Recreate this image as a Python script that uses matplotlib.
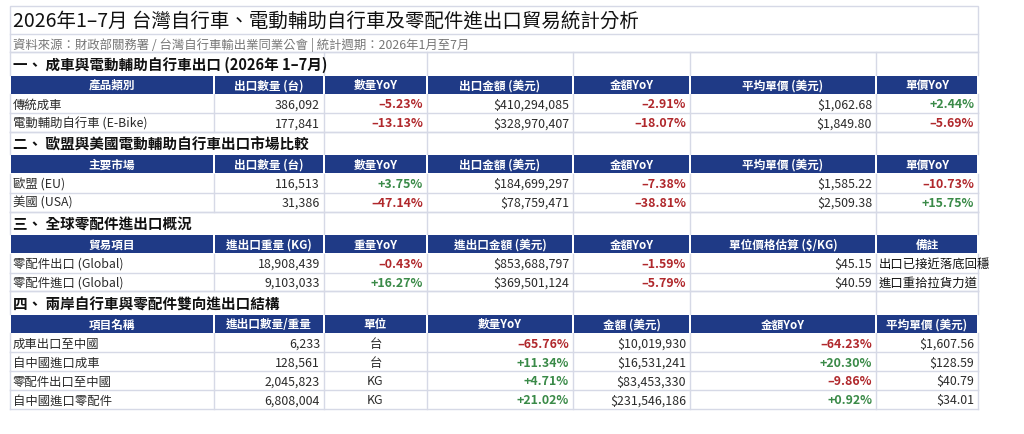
import matplotlib.pyplot as plt
from matplotlib.patches import Rectangle

plt.rcParams['font.family'] = ['Noto Sans CJK TC', 'DejaVu Sans']

TITLE = "2026年1–7月 台灣自行車、電動輔助自行車及零配件進出口貿易統計分析"
SOURCE = "資料來源：財政部關務署 / 台灣自行車輸出業同業公會 | 統計週期：2026年1月至7月"

# section 1
sec1_title = "一、 成車與電動輔助自行車出口 (2026年 1–7月)"
sec1_header = ["產品類別", "出口數量 (台)", "數量YoY", "出口金額 (美元)", "金額YoY", "平均單價 (美元)", "單價YoY"]
sec1_items = ["傳統成車", "電動輔助自行車 (E-Bike)"]
sec1_qty = [386092, 177841]
sec1_qty_yoy = [-5.23, -13.13]
sec1_value = [410294085, 328970407]
sec1_value_yoy = [-2.91, -18.07]
sec1_price = [1062.68, 1849.80]
sec1_price_yoy = [2.44, -5.69]

# section 2
sec2_title = "二、 歐盟與美國電動輔助自行車出口市場比較"
sec2_header = ["主要市場", "出口數量 (台)", "數量YoY", "出口金額 (美元)", "金額YoY", "平均單價 (美元)", "單價YoY"]
sec2_items = ["歐盟 (EU)", "美國 (USA)"]
sec2_qty = [116513, 31386]
sec2_qty_yoy = [3.75, -47.14]
sec2_value = [184699297, 78759471]
sec2_value_yoy = [-7.38, -38.81]
sec2_price = [1585.22, 2509.38]
sec2_price_yoy = [-10.73, 15.75]

# section 3
sec3_title = "三、 全球零配件進出口概況"
sec3_header = ["貿易項目", "進出口重量 (KG)", "重量YoY", "進出口金額 (美元)", "金額YoY", "單位價格估算 ($/KG)", "備註"]
sec3_items = ["零配件出口 (Global)", "零配件進口 (Global)"]
sec3_weight = [18908439, 9103033]
sec3_weight_yoy = [-0.43, 16.27]
sec3_value = [853688797, 369501124]
sec3_value_yoy = [-1.59, -5.79]
sec3_price = [45.15, 40.59]
sec3_notes = ["出口已接近落底回穩", "進口重拾拉貨力道"]

# section 4
sec4_title = "四、 兩岸自行車與零配件雙向進出口結構"
sec4_header = ["項目名稱", "進出口數量/重量", "單位", "數量YoY", "金額 (美元)", "金額YoY", "平均單價 (美元)"]
sec4_items = ["成車出口至中國", "自中國進口成車", "零配件出口至中國", "自中國進口零配件"]
sec4_qty = [6233, 128561, 2045823, 6808004]
sec4_units = ["台", "台", "KG", "KG"]
sec4_qty_yoy = [-65.76, 11.34, 4.71, 21.02]
sec4_value = [10019930, 16531241, 83453330, 231546186]
sec4_value_yoy = [-64.23, 20.30, -9.86, 0.92]
sec4_price = [1607.56, 128.59, 40.79, 34.01]

NAVY = "#1f3a86"
RED = "#b0282c"
GREEN = "#3a8a48"
GRID = "#d6d9e6"
TXT = "#2b2b2b"

col_x = [10, 214, 324, 427, 573, 690, 876, 978]

fig = plt.figure(figsize=(10.24, 4.35), dpi=100)
ax = fig.add_axes([0, 0, 1, 1])
ax.set_xlim(0, 1024)
ax.set_ylim(435, 0)
ax.axis("off")


def fmt_int(v):
    return f"{v:,}"


def fmt_money(v, dec=0):
    return f"${v:,.{dec}f}"


def fmt_pct(v):
    s = f"{abs(v):.2f}%"
    return ("+" if v >= 0 else "–") + s


def pct_color(v):
    return GREEN if v >= 0 else RED


def hline(y, x0=col_x[0], x1=col_x[-1]):
    ax.plot([x0, x1], [y, y], color=GRID, lw=1.0, zorder=1)


def vline(x, y0, y1):
    ax.plot([x, x], [y0, y1], color=GRID, lw=1.0, zorder=1)


# title + source rows
ax.add_patch(Rectangle((col_x[0], 7), col_x[-1] - col_x[0], 46, fill=False, ec=GRID, lw=1.0))
hline(35)
ax.text(13, 21.5, TITLE, fontsize=14, color="#111111", va="center", ha="left")
ax.text(13, 44.5, SOURCE, fontsize=8.9, color="#777777", va="center", ha="left", style="italic")

HEAD_H = 22.5
HDR_H = 19.5
ROW_H = 18.9


def draw_section(y, title, header, rows, aligns, colors):
    # heading row
    hline(y)
    vline(col_x[0], y, y + HEAD_H)
    for x in col_x[2:]:
        vline(x, y, y + HEAD_H)
    ax.text(13, y + HEAD_H / 2 + 0.5, title, fontsize=10.5, fontweight="bold",
            color="#111111", va="center", ha="left")
    y += HEAD_H
    # header row
    for i in range(7):
        x0, x1 = col_x[i], col_x[i + 1]
        ax.add_patch(Rectangle((x0 + 1, y + 1), x1 - x0 - 2, HDR_H - 1.5,
                               fc=NAVY, ec="none", zorder=2))
        ax.text((x0 + x1) / 2, y + HDR_H / 2 + 0.3, header[i], fontsize=8.4,
                fontweight="bold", color="white", va="center", ha="center", zorder=3)
    y += HDR_H
    # data rows
    for r, row in enumerate(rows):
        for i, cell in enumerate(row):
            x0, x1 = col_x[i], col_x[i + 1]
            a = aligns[i]
            if a == "left":
                tx = x0 + 3
            elif a == "right":
                tx = x1 - 4
            else:
                tx = (x0 + x1) / 2
            c = colors[r][i]
            bold = c in (RED, GREEN)
            ax.text(tx, y + ROW_H / 2 + 0.3, cell, fontsize=8.9, color=c,
                    fontweight="bold" if bold else "normal",
                    va="center", ha=a, zorder=3)
        for x in col_x:
            vline(x, y, y + ROW_H)
        hline(y + ROW_H)
        y += ROW_H
    return y


y = 53
rows1 = []
cols1 = []
for k in range(len(sec1_items)):
    rows1.append([sec1_items[k], fmt_int(sec1_qty[k]), fmt_pct(sec1_qty_yoy[k]),
                  fmt_money(sec1_value[k]), fmt_pct(sec1_value_yoy[k]),
                  fmt_money(sec1_price[k], 2), fmt_pct(sec1_price_yoy[k])])
    cols1.append([TXT, TXT, pct_color(sec1_qty_yoy[k]), TXT,
                  pct_color(sec1_value_yoy[k]), TXT, pct_color(sec1_price_yoy[k])])
y = draw_section(y, sec1_title, sec1_header, rows1,
                 ["left", "right", "right", "right", "right", "right", "right"], cols1)

rows2 = []
cols2 = []
for k in range(len(sec2_items)):
    rows2.append([sec2_items[k], fmt_int(sec2_qty[k]), fmt_pct(sec2_qty_yoy[k]),
                  fmt_money(sec2_value[k]), fmt_pct(sec2_value_yoy[k]),
                  fmt_money(sec2_price[k], 2), fmt_pct(sec2_price_yoy[k])])
    cols2.append([TXT, TXT, pct_color(sec2_qty_yoy[k]), TXT,
                  pct_color(sec2_value_yoy[k]), TXT, pct_color(sec2_price_yoy[k])])
y = draw_section(y, sec2_title, sec2_header, rows2,
                 ["left", "right", "right", "right", "right", "right", "right"], cols2)

rows3 = []
cols3 = []
for k in range(len(sec3_items)):
    rows3.append([sec3_items[k], fmt_int(sec3_weight[k]), fmt_pct(sec3_weight_yoy[k]),
                  fmt_money(sec3_value[k]), fmt_pct(sec3_value_yoy[k]),
                  fmt_money(sec3_price[k], 2), sec3_notes[k]])
    cols3.append([TXT, TXT, pct_color(sec3_weight_yoy[k]), TXT,
                  pct_color(sec3_value_yoy[k]), TXT, "#111111"])
y = draw_section(y, sec3_title, sec3_header, rows3,
                 ["left", "right", "right", "right", "right", "right", "left"], cols3)

rows4 = []
cols4 = []
for k in range(len(sec4_items)):
    rows4.append([sec4_items[k], fmt_int(sec4_qty[k]), sec4_units[k],
                  fmt_pct(sec4_qty_yoy[k]), fmt_money(sec4_value[k]),
                  fmt_pct(sec4_value_yoy[k]), fmt_money(sec4_price[k], 2)])
    cols4.append([TXT, TXT, TXT, pct_color(sec4_qty_yoy[k]), TXT,
                  pct_color(sec4_value_yoy[k]), TXT])
y = draw_section(y, sec4_title, sec4_header, rows4,
                 ["left", "right", "center", "right", "right", "right", "right"], cols4)

fig.savefig("out.png", dpi=100, facecolor="white")
